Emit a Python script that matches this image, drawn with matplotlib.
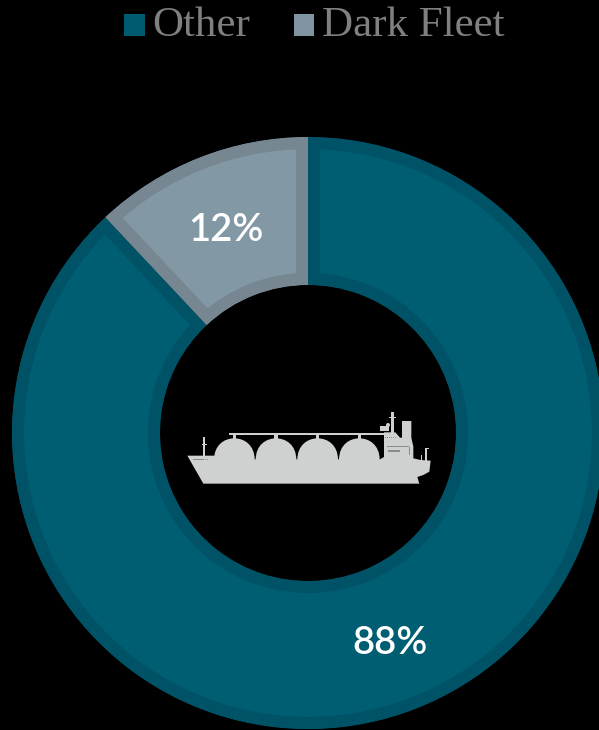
import matplotlib
matplotlib.use("Agg")
import matplotlib.pyplot as plt
from matplotlib.patches import Patch, PathPatch, Rectangle, Circle
from matplotlib.path import Path
from matplotlib.transforms import Affine2D

categories = ["Other", "Dark Fleet"]
shares = [88, 12]
fill_colors = ["#005E73", "#8299A5"]
edge_colors = ["#005367", "#768791"]
legend_colors = ["#005A70", "#7F95A1"]

W, H = 599, 730
CX, CY, R = 308, 433, 296
SHIP = "#CFD1D0"

fig = plt.figure(figsize=(W / 100, H / 100), dpi=100, facecolor="black")
ax = fig.add_axes([(CX - R) / W, (H - CY - R) / H, 2 * R / W, 2 * R / H])

wedges, _, pct = ax.pie(
    shares, colors=fill_colors, startangle=90, counterclock=False, radius=1,
    autopct="%.0f%%", pctdistance=0.75,
    wedgeprops=dict(width=0.5, linewidth=17.5),
    textprops=dict(color="white", family="Lato", fontsize=27.5, fontweight="semibold"),
)
# Inner border: a wide stroke clipped to the wedge's own outline
for w, ec in zip(wedges, edge_colors):
    w.set_edgecolor(ec)
    w.set_clip_on(True)
    w.set_clip_path(w)
for t in pct:
    t.set_y(t.get_position()[1] - 4 / R)
ax.set_xlim(-1, 1)
ax.set_ylim(-1, 1)
ax.set_aspect("equal")

# Ship icon, outlined in its own drawing units
icon = Affine2D().scale(1 / 3 / R, -1 / 3 / R).translate((170 - CX) / R, (CY - 395) / R) + ax.transData


def add(artist):
    artist.set_transform(icon)
    artist.set_clip_on(False)
    ax.add_patch(artist)


def block(x, y, w_, h_, color=SHIP, z=5):
    add(Rectangle((x, y), w_, h_, facecolor=color, edgecolor="none", zorder=z))


def dome(cx):
    half, base, top = 61, 195, 130
    verts = [(cx - half, base), (cx - half, 150), (cx - 30, top), (cx, top),
             (cx + 30, top), (cx + half, 150), (cx + half, base), (cx - half, base)]
    codes = [Path.MOVETO] + [Path.CURVE4] * 6 + [Path.CLOSEPOLY]
    add(PathPatch(Path(verts, codes), facecolor=SHIP, edgecolor="none", zorder=5))


hull = [(52, 182), (135, 182), (135, 193), (630, 193), (642, 186), (642, 112), (676, 112), (690, 128),
        (696, 128), (696, 78), (724, 78), (724, 128), (730, 155), (730, 190), (752, 195), (782, 197),
        (778, 230), (760, 240), (742, 246), (748, 266), (100, 266), (52, 182)]
add(PathPatch(Path(hull), facecolor=SHIP, edgecolor="none", zorder=5))
for cx in [193, 318, 443, 568]:
    dome(cx)
    block(cx - 5, 120, 10, 14)
block(178, 115, 465, 6)
block(100, 125, 5, 58)
block(95, 146, 15, 4)
block(766, 158, 5, 40)
block(766, 158, 12, 3)
block(753, 180, 4, 18)
block(630, 93, 28, 14)
block(664, 52, 8, 62)
block(657, 66, 22, 4)
add(Circle((654, 90), 6, facecolor=SHIP, edgecolor="none", zorder=5))
# Window rows and dark trim on the superstructure and bow
DETAIL = "#8A8C8C"
for x0, y0, n in [(70, 191, 8), (655, 166, 6), (645, 126, 6)]:
    for i in range(n):
        block(x0 + i * 6 * (8 / n if n == 8 else 1), y0, 3.5, 4, DETAIL, 6)
block(716, 155, 4, 26, DETAIL, 6)
block(650, 153, 68, 2.5, DETAIL, 6)

handles = [Patch(facecolor=c, edgecolor="none") for c in legend_colors]
leg = fig.legend(
    handles, categories, ncol=2, loc="upper left", bbox_to_anchor=(0.157, 1.032),
    frameon=False, prop=dict(family="Liberation Serif", size=31), labelcolor="#808080",
    handlelength=0.48, handleheight=0.42, handletextpad=0.18, columnspacing=1.0, borderpad=0.2,
)
# Lower the swatches so they sit on the text baseline
for p in leg.get_patches():
    p.set_y(p.get_y() - 2.9)

fig.savefig("out.png", dpi=100, facecolor="black")
